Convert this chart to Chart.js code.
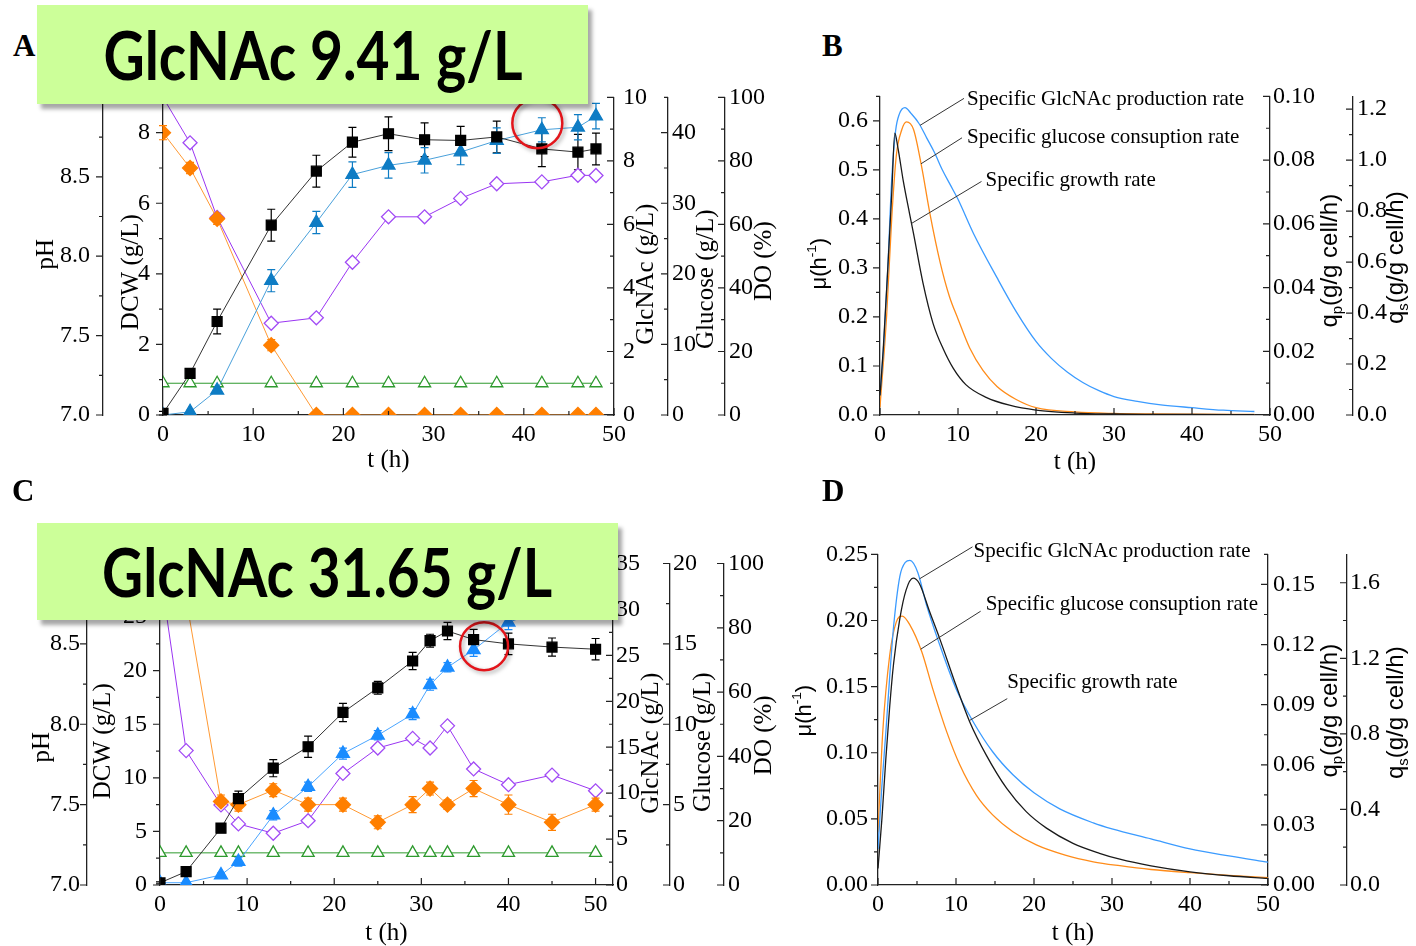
<!DOCTYPE html>
<html>
<head>
<meta charset="utf-8">
<script src="https://cdn.jsdelivr.net/npm/chart.js@4.4.1/dist/chart.umd.min.js"></script>
<style>
html, body { margin: 0; padding: 0; background: #fff; }
#fig { position: relative; width: 1416px; height: 946px; overflow: hidden; }
.panel { position: absolute; }
.letter { position: absolute; font: bold 31px "Liberation Serif", serif; line-height: 1; }
.banner { position: absolute; background: #CCFF99; box-shadow: 4px 5px 4px rgba(0,0,0,0.35);
  display: flex; align-items: center; justify-content: center; z-index: 5; }
.banner span { display: inline-block; font: bold 66px Lato, "Open Sans", sans-serif; line-height: 1; white-space: nowrap; }
</style>
</head>
<body>
<div id="fig">
  <div class="panel" style="left:0;top:70px"><canvas id="chartA" width="800" height="410"></canvas></div>
  <div class="panel" style="left:780px;top:70px"><canvas id="chartB" width="636" height="410"></canvas></div>
  <div class="panel" style="left:0;top:530px"><canvas id="chartC" width="780" height="416"></canvas></div>
  <div class="panel" style="left:780px;top:530px"><canvas id="chartD" width="636" height="416"></canvas></div>

  <div class="letter" style="left:13px;top:30px">A</div>
  <div class="letter" style="left:822px;top:30px">B</div>
  <div class="letter" style="left:12px;top:475px">C</div>
  <div class="letter" style="left:822px;top:475px">D</div>

  <div class="banner" data-w="419" style="left:37px;top:5px;width:551px;height:99px"><span>GlcNAc 9.41 g/L</span></div>
  <div class="banner" data-w="450" style="left:37px;top:523px;width:581px;height:97px"><span>GlcNAc 31.65 g/L</span></div>
</div>

<script>
// ---- batch culture, panel A ----
const tA        = [0, 3, 6, 12, 17, 21, 25, 29, 33, 37, 42, 46, 48];
const dcwA      = [0.05, 1.18, 2.65, 5.38, 6.91, 7.73, 7.97, 7.8, 7.78, 7.88, 7.54, 7.45, 7.54];
const dcwErrA   = [0.05, 0.1, 0.35, 0.45, 0.45, 0.42, 0.48, 0.48, 0.4, 0.45, 0.5, 0.5, 0.45];
const glcnacA   = [0, 0.1, 0.78, 4.23, 6.06, 7.57, 7.86, 8.02, 8.28, 8.64, 8.98, 9.06, 9.41];
const glcnacErrA= [0, 0.05, 0.1, 0.35, 0.35, 0.4, 0.4, 0.4, 0.4, 0.4, 0.38, 0.4, 0.4];
const glucoseA  = [40, 35, 27.8, 9.9, 0, 0, 0, 0, 0, 0, 0, 0, 0];
const glucoseErrA = [1, 0.8, 0.8, 0.8, 0, 0, 0, 0, 0, 0, 0, 0, 0];
const doA       = [100, 85.7, 62.2, 28.9, 30.6, 48.1, 62.4, 62.4, 68.2, 72.8, 73.4, 75.5, 75.4];
const phA       = [7.2, 7.2, 7.2, 7.2, 7.2, 7.2, 7.2, 7.2, 7.2, 7.2, 7.2, 7.2, 7.2];

// ---- fed-batch culture, panel C ----
const tC        = [0, 3, 7, 9, 13, 17, 21, 25, 29, 31, 33, 36, 40, 45, 50];
const dcwC      = [0.2, 1.25, 5.3, 8.06, 10.9, 12.9, 16.1, 18.4, 20.9, 22.8, 23.7, 22.9, 22.5, 22.2, 22.0];
const dcwErrC   = [0.1, 0.2, 0.3, 0.7, 0.8, 1.0, 0.85, 0.6, 0.8, 0.6, 0.8, 0.95, 1.0, 0.85, 1.0];
const glcnacC   = [0.25, 0.25, 1.09, 2.54, 7.6, 10.7, 14.3, 16.3, 18.6, 21.8, 23.7, 25.6, 28.6, 30.3, 31.65];
const glcnacErrC= [0, 0, 0.2, 0.5, 0.5, 0.5, 0.6, 0.5, 0.6, 0.6, 0.5, 0.7, 0.8, 0.8, 0.8];
const glucoseC  = [20, 17.8, 5.2, 5.0, 5.9, 5.0, 5.0, 3.9, 5.0, 6.0, 5.0, 6.0, 5.0, 3.9, 5.0];
const glucoseErrC = [0.3, 0.3, 0.4, 0.4, 0.4, 0.4, 0.4, 0.4, 0.5, 0.4, 0.3, 0.5, 0.6, 0.5, 0.4];
const doC       = [98, 41.8, 24.9, 19.0, 16.1, 20.0, 34.7, 42.6, 45.6, 42.6, 49.5, 36.1, 31.2, 34.2, 29.3];
const phC       = [7.2, 7.2, 7.2, 7.2, 7.2, 7.2, 7.2, 7.2, 7.2, 7.2, 7.2, 7.2, 7.2, 7.2, 7.2];

// ---- specific rates, panel B ----
const tMuB = [0, 0.4, 1, 1.5, 1.9, 2.3, 3, 3.8, 4.3, 5.5, 6.8, 8.1, 9.4, 11, 13.6, 16.6, 20, 25, 30, 35, 40, 48];
const muB  = [0.04, 0.13, 0.3, 0.45, 0.575, 0.545, 0.476, 0.41, 0.37, 0.27, 0.187, 0.135, 0.095, 0.062, 0.036, 0.02, 0.01, 0.004, 0.002, 0.001, 0.001, 0.0005];
const tQpB = [0, 0.5, 1, 1.5, 2, 2.5, 3.2, 4, 5, 6, 7, 8, 9, 10, 12, 15, 17.5, 20, 22, 24, 26, 28, 30, 33, 36, 40, 44, 48];
const qpB  = [0.0062, 0.0231, 0.0462, 0.0738, 0.0892, 0.0946, 0.0965, 0.0946, 0.0915, 0.0869, 0.0823, 0.0769, 0.0723, 0.0677, 0.0569, 0.0431, 0.0323, 0.0231, 0.0177, 0.0135, 0.0102, 0.0077, 0.0058, 0.0043, 0.0032, 0.0023, 0.0015, 0.0011];
const tQsB = [0, 0.85, 1.5, 2.1, 2.8, 3.4, 4.3, 5.3, 6.4, 7.7, 8.9, 10, 11.5, 13.2, 15, 17.4, 20, 25, 30, 35, 40, 48];
const qsB  = [0.03, 0.39, 0.77, 1.02, 1.12, 1.15, 1.12, 0.98, 0.79, 0.6, 0.465, 0.377, 0.263, 0.175, 0.112, 0.062, 0.029, 0.012, 0.006, 0.004, 0.003, 0.002];

// ---- specific rates, panel D ----
const tMuD = [0, 0.5, 1, 1.5, 2, 2.8, 3.6, 4.5, 5.3, 6.6, 7.9, 10, 11.75, 13.9, 16.5, 19, 21.6, 25, 28.4, 31, 35, 40, 45, 50];
const muD  = [0.0125, 0.05, 0.095, 0.135, 0.1675, 0.2015, 0.223, 0.232, 0.228, 0.207, 0.1865, 0.151, 0.1235, 0.098, 0.073, 0.0555, 0.043, 0.0315, 0.024, 0.0195, 0.0145, 0.01, 0.007, 0.005];
const tQpD = [0, 0.5, 1, 1.5, 2, 2.8, 3.5, 4.1, 5.1, 6.2, 7.9, 10, 12.2, 14.7, 17.3, 20, 23.3, 27.6, 30, 35, 40, 45, 50];
const qpD  = [0.018, 0.0495, 0.076, 0.104, 0.129, 0.154, 0.161, 0.162, 0.156, 0.14, 0.12, 0.098, 0.0815, 0.0665, 0.055, 0.046, 0.038, 0.031, 0.028, 0.023, 0.018, 0.0145, 0.0114];
const tQsD = [0, 0.6, 1.5, 2.35, 3.1, 4.1, 5.6, 7, 8.8, 10.5, 12.6, 14.7, 17.3, 20.3, 24, 27.6, 31, 35, 40, 45, 50];
const qsD  = [0.28, 0.805, 1.216, 1.393, 1.423, 1.376, 1.236, 1.041, 0.812, 0.635, 0.476, 0.371, 0.282, 0.212, 0.158, 0.123, 0.102, 0.082, 0.065, 0.051, 0.039];

const SERIF = '"Liberation Serif", "Times New Roman", serif';
const SANS = '"Liberation Sans", Arial, sans-serif';
const AXIS = '#222';
const tickFont = { family: SERIF, size: 24 };

const pts = (xs, ys) => xs.map((x, i) => ({ x, y: ys[i] }));

function yAxis(o) {
  return {
    type: 'linear', axis: 'y', position: o.pos, min: o.min, max: o.max, weight: o.weight || 0,
    grid: { drawOnChartArea: false, drawTicks: false },
    border: { display: true, color: AXIS, width: 1.3 },
    ticks: { stepSize: o.step, includeBounds: false, autoSkip: false, padding: o.pad,
      color: '#000', font: tickFont, callback: v => v.toFixed(o.dec || 0) },
    afterFit: s => { s.width = o.width; }
  };
}

function xAxis(max) {
  return {
    type: 'linear', position: 'bottom', min: 0, max,
    grid: { drawOnChartArea: false, drawTicks: false },
    border: { display: true, color: AXIS, width: 1.3 },
    ticks: { stepSize: 10, includeBounds: false, autoSkip: false, maxRotation: 0, padding: 5,
      color: '#000', font: tickFont },
    afterFit: s => { s.height = 60; }
  };
}

function markerSet(label, xs, ys, axis, o) {
  return {
    label, data: pts(xs, ys), yAxisID: axis, err: o.err,
    borderColor: o.line, borderWidth: 1, pointStyle: o.style, pointRadius: o.r,
    pointBackgroundColor: o.fill, pointBorderColor: o.edge, pointBorderWidth: 1.3
  };
}

function curveSet(label, xs, ys, axis, color) {
  return { label, data: pts(xs, ys), yAxisID: axis, borderColor: color, borderWidth: 1.3,
    pointRadius: 0, cubicInterpolationMode: 'monotone' };
}

// value of a dataset at x, linear between stored points
function valueAt(ds, x) {
  const d = ds.data;
  for (let i = 1; i < d.length; i++) {
    if (x <= d[i].x) {
      const f = (x - d[i - 1].x) / (d[i].x - d[i - 1].x);
      return d[i - 1].y + f * (d[i].y - d[i - 1].y);
    }
  }
  return d[d.length - 1].y;
}

function drawRich(ctx, parts, x, y, rot, family, size) {
  ctx.save();
  ctx.translate(x, y);
  ctx.rotate(rot);
  ctx.fillStyle = '#000';
  ctx.textBaseline = 'middle';
  ctx.textAlign = 'left';
  const runs = parts.map(p => {
    const sz = (p.sub || p.sup) ? size * 0.62 : size;
    ctx.font = sz + 'px ' + family;
    return Object.assign({ sz, w: ctx.measureText(p.t).width }, p);
  });
  let cx = -runs.reduce((s, r) => s + r.w, 0) / 2;
  runs.forEach(r => {
    ctx.font = r.sz + 'px ' + family;
    const oy = r.sub ? size * 0.32 : r.sup ? -size * 0.36 : 0;
    ctx.fillText(r.t, cx, oy);
    cx += r.w;
  });
  ctx.restore();
}

// ticks, error bars, axis titles, labels and highlight rings
function decor(cfg) {
  return {
    id: 'decor',
    beforeDatasetsDraw(chart) {
      const ctx = chart.ctx;
      chart.data.datasets.forEach((ds, i) => {
        if (!ds.err) return;
        const meta = chart.getDatasetMeta(i);
        const ys = chart.scales[ds.yAxisID];
        ctx.save();
        ctx.strokeStyle = ds.pointBorderColor;
        ctx.lineWidth = 1.2;
        ctx.beginPath();
        ds.data.forEach((p, j) => {
          const e = ds.err[j];
          if (!e) return;
          const x = meta.data[j].x;
          const y1 = ys.getPixelForValue(p.y - e), y2 = ys.getPixelForValue(p.y + e);
          ctx.moveTo(x, y1); ctx.lineTo(x, y2);
          ctx.moveTo(x - 4, y1); ctx.lineTo(x + 4, y1);
          ctx.moveTo(x - 4, y2); ctx.lineTo(x + 4, y2);
        });
        ctx.stroke();
        ctx.restore();
      });
    },
    afterDatasetsDraw(chart) {
      const ctx = chart.ctx;
      (cfg.rings || []).forEach(c => {
        const x = chart.scales.x.getPixelForValue(c.x);
        const y = chart.scales[c.axis].getPixelForValue(c.y);
        ctx.save();
        ctx.shadowColor = 'rgba(0,0,0,0.35)';
        ctx.shadowBlur = 4;
        ctx.shadowOffsetX = 2;
        ctx.shadowOffsetY = 2;
        ctx.strokeStyle = '#E3151B';
        ctx.lineWidth = 2.5;
        ctx.beginPath();
        ctx.arc(x, y, c.r, 0, Math.PI * 2);
        ctx.stroke();
        ctx.restore();
      });
    },
    afterDraw(chart) {
      const ctx = chart.ctx, area = chart.chartArea;
      // major and minor tick marks
      ctx.save();
      ctx.strokeStyle = AXIS;
      ctx.lineWidth = 1.2;
      ctx.beginPath();
      for (const id in cfg.minor) {
        const s = chart.scales[id], step = cfg.minor[id];
        const n = Math.floor((s.max - s.min) / step + 1e-6);
        for (let i = 0; i <= n; i++) {
          const v = s.min + i * step;
          const major = s.ticks.some(t => Math.abs(t.value - v) < step * 1e-3);
          const len = major ? 7 : 4;
          const p = s.getPixelForValue(v);
          if (s.isHorizontal()) {
            ctx.moveTo(p, s.top); ctx.lineTo(p, s.top - len);
          } else {
            const x = s.position === 'left' ? s.right : s.left;
            ctx.moveTo(x, p); ctx.lineTo(x - len, p);
          }
        }
      }
      ctx.stroke();
      ctx.restore();

      // axis titles
      (cfg.titles || []).forEach(t => {
        const s = chart.scales[t.axis];
        if (s.isHorizontal()) {
          drawRich(ctx, t.parts, (area.left + area.right) / 2, s.top + t.off, 0, t.family || SERIF, t.size || 25);
        } else {
          const x = (s.position === 'left' ? s.right : s.left) + t.off;
          drawRich(ctx, t.parts, x, (area.top + area.bottom) / 2 + (t.dy || 0), -Math.PI / 2, t.family || SERIF, t.size || 25);
        }
      });

      // curve labels with leader lines
      ctx.save();
      ctx.strokeStyle = '#333';
      ctx.lineWidth = 1;
      ctx.fillStyle = '#000';
      ctx.font = '21px ' + SERIF;
      ctx.textBaseline = 'middle';
      ctx.textAlign = 'left';
      (cfg.callouts || []).forEach(c => {
        const ds = chart.data.datasets[c.ds];
        const px = chart.scales.x.getPixelForValue(c.x);
        const py = chart.scales[ds.yAxisID].getPixelForValue(valueAt(ds, c.x));
        const ex = px + c.dx, ey = py + c.dy;
        ctx.beginPath();
        ctx.moveTo(px, py);
        ctx.lineTo(ex, ey);
        ctx.stroke();
        ctx.fillText(c.text, ex + c.tx, ey + c.ty);
      });
      ctx.restore();
    }
  };
}

function build(id, datasets, scales, padding, cfg) {
  return new Chart(document.getElementById(id), {
    type: 'line',
    data: { datasets },
    options: {
      responsive: false, animation: false, devicePixelRatio: 1,
      layout: { padding },
      plugins: { legend: { display: false }, tooltip: { enabled: false } },
      scales
    },
    plugins: [decor(cfg)]
  });
}

const plain = s => [{ t: s }];
const qTitle = s => [{ t: 'q' }, { t: s, sub: true }, { t: '(g/g cell/h)' }];
const muTitle = [{ t: 'μ(h' }, { t: '-1', sup: true }, { t: ')' }];

// ---------- A ----------
build('chartA', [
  markerSet('DCW', tA, dcwA, 'dcw', { style: 'rect', r: 7, fill: '#000', edge: '#000', line: '#333', err: dcwErrA }),
  markerSet('GlcNAc', tA, glcnacA, 'glcnac', { style: 'triangle', r: 7.5, fill: '#0E7CC4', edge: '#0E7CC4', line: '#49A0DA', err: glcnacErrA }),
  markerSet('Glucose', tA, glucoseA, 'glc', { style: 'rectRot', r: 7.5, fill: '#FF7F00', edge: '#FF7F00', line: '#FF9933', err: glucoseErrA }),
  markerSet('DO', tA, doA, 'dox', { style: 'rectRot', r: 7, fill: '#fff', edge: '#A24CF5', line: '#9A35F2' }),
  markerSet('pH', tA, phA, 'ph', { style: 'triangle', r: 7, fill: '#fff', edge: '#2E9A2E', line: '#2E9A2E' })
], {
  x: xAxis(50),
  dcw: yAxis({ pos: 'left', min: 0, max: 9, step: 2, width: 60, pad: 13, weight: 0 }),
  ph: yAxis({ pos: 'left', min: 7, max: 9, step: 0.5, dec: 1, width: 103, pad: 13, weight: 1 }),
  glcnac: yAxis({ pos: 'right', min: 0, max: 10, step: 2, width: 54, pad: 9, weight: 0 }),
  glc: yAxis({ pos: 'right', min: 0, max: 45, step: 10, width: 57, pad: 4, weight: 1 }),
  dox: yAxis({ pos: 'right', min: 0, max: 100, step: 20, width: 75, pad: 4, weight: 2 })
}, { top: 26, bottom: 5, left: 0, right: 0 }, {
  minor: { x: 5, dcw: 1, ph: 0.25, glcnac: 1, glc: 5, dox: 10 },
  titles: [
    { axis: 'ph', off: -57, dy: -2, parts: plain('pH') },
    { axis: 'dcw', off: -32, dy: 16, parts: plain('DCW (g/L)') },
    { axis: 'glcnac', off: 32, dy: 18, parts: plain('GlcNAc (g/L)') },
    { axis: 'glc', off: 38, dy: 23, parts: plain('Glucose (g/L)') },
    { axis: 'dox', off: 39, dy: 5, parts: plain('DO (%)') },
    { axis: 'x', off: 45, parts: plain('t (h)') }
  ],
  rings: [{ axis: 'glcnac', x: 41.5, y: 9.19, r: 25 }]
});

// ---------- B ----------
build('chartB', [
  curveSet('Specific growth rate', tMuB, muB, 'mu', '#1A1A1A'),
  curveSet('Specific GlcNAc production rate', tQpB, qpB, 'qp', '#3B9BFF'),
  curveSet('Specific glucose consuption rate', tQsB, qsB, 'qs', '#FF8C1A')
], {
  x: xAxis(50),
  mu: yAxis({ pos: 'left', min: 0, max: 0.65, step: 0.1, dec: 1, width: 80, pad: 12 }),
  qp: yAxis({ pos: 'right', min: 0, max: 0.1, step: 0.02, dec: 2, width: 83, pad: 3, weight: 0 }),
  qs: yAxis({ pos: 'right', min: 0, max: 1.25, step: 0.2, dec: 1, width: 63, pad: 4, weight: 1 })
}, { top: 15, bottom: 5, left: 20, right: 0 }, {
  minor: { x: 5, mu: 0.05, qp: 0.01, qs: 0.1 },
  titles: [
    { axis: 'mu', off: -60, dy: 8, parts: muTitle, family: SANS, size: 22 },
    { axis: 'qp', off: 60, dy: 5, parts: qTitle('p'), family: SANS, size: 24 },
    { axis: 'qs', off: 43, dy: 2, parts: qTitle('s'), family: SANS, size: 24 },
    { axis: 'x', off: 47, parts: plain('t (h)') }
  ],
  callouts: [
    { ds: 1, x: 5.13, dx: 44, dy: -27, tx: 3, ty: 1, text: 'Specific GlcNAc production rate' },
    { ds: 2, x: 5.26, dx: 41, dy: -26, tx: 5, ty: 0, text: 'Specific glucose consuption rate' },
    { ds: 0, x: 4.04, dx: 70, dy: -42, tx: 4, ty: -1, text: 'Specific growth rate' }
  ]
});

// ---------- C ----------
build('chartC', [
  markerSet('DCW', tC, dcwC, 'dcw', { style: 'rect', r: 7, fill: '#000', edge: '#000', line: '#333', err: dcwErrC }),
  markerSet('GlcNAc', tC, glcnacC, 'glcnac', { style: 'triangle', r: 7.5, fill: '#1A8CFF', edge: '#1A8CFF', line: '#4AA5FF', err: glcnacErrC }),
  markerSet('Glucose', tC, glucoseC, 'glc', { style: 'rectRot', r: 7.5, fill: '#FF7F00', edge: '#FF7F00', line: '#FF9933', err: glucoseErrC }),
  markerSet('DO', tC, doC, 'dox', { style: 'rectRot', r: 7, fill: '#fff', edge: '#A24CF5', line: '#9A35F2' }),
  markerSet('pH', tC, phC, 'ph', { style: 'triangle', r: 7, fill: '#fff', edge: '#2E9A2E', line: '#2E9A2E' })
], {
  x: xAxis(52),
  dcw: yAxis({ pos: 'left', min: 0, max: 30, step: 5, width: 73, pad: 13, weight: 0 }),
  ph: yAxis({ pos: 'left', min: 7, max: 9, step: 0.5, dec: 1, width: 87, pad: 7, weight: 1 }),
  glcnac: yAxis({ pos: 'right', min: 0, max: 35, step: 5, width: 57, pad: 3, weight: 0 }),
  glc: yAxis({ pos: 'right', min: 0, max: 20, step: 5, width: 54, pad: 3, weight: 1 }),
  dox: yAxis({ pos: 'right', min: 0, max: 100, step: 20, width: 56, pad: 4, weight: 2 })
}, { top: 33.5, bottom: 1, left: 0, right: 0 }, {
  minor: { x: 5, dcw: 2.5, ph: 0.25, glcnac: 2.5, glc: 2.5, dox: 10 },
  titles: [
    { axis: 'ph', off: -45, dy: 23, parts: plain('pH') },
    { axis: 'dcw', off: -57, dy: 17, parts: plain('DCW (g/L)') },
    { axis: 'glcnac', off: 38, dy: 19, parts: plain('GlcNAc (g/L)') },
    { axis: 'glc', off: 33, dy: 18, parts: plain('Glucose (g/L)') },
    { axis: 'dox', off: 40, dy: 11, parts: plain('DO (%)') },
    { axis: 'x', off: 48, parts: plain('t (h)') }
  ],
  rings: [{ axis: 'glcnac', x: 37.2, y: 26.0, r: 24 }]
});

// ---------- D ----------
build('chartD', [
  curveSet('Specific growth rate', tMuD, muD, 'mu', '#1A1A1A'),
  curveSet('Specific GlcNAc production rate', tQpD, qpD, 'qp', '#3B9BFF'),
  curveSet('Specific glucose consuption rate', tQsD, qsD, 'qs', '#FF8C1A')
], {
  x: xAxis(50),
  mu: yAxis({ pos: 'left', min: 0, max: 0.25, step: 0.05, dec: 2, width: 78, pad: 10 }),
  qp: yAxis({ pos: 'right', min: 0, max: 0.165, step: 0.03, dec: 2, width: 79, pad: 5, weight: 0 }),
  qs: yAxis({ pos: 'right', min: 0, max: 1.75, step: 0.4, dec: 1, width: 69, pad: 3, weight: 1 })
}, { top: 24, bottom: 1, left: 20, right: 0 }, {
  minor: { x: 5, mu: 0.025, qp: 0.015, qs: 0.2 },
  titles: [
    { axis: 'mu', off: -73, dy: -9, parts: muTitle, family: SANS, size: 22 },
    { axis: 'qp', off: 62, dy: -9, parts: qTitle('p'), family: SANS, size: 24 },
    { axis: 'qs', off: 49, dy: -7, parts: qTitle('s'), family: SANS, size: 24 },
    { axis: 'x', off: 48, parts: plain('t (h)') }
  ],
  callouts: [
    { ds: 1, x: 5.32, dx: 53, dy: -32, tx: 1, ty: 5, text: 'Specific GlcNAc production rate' },
    { ds: 2, x: 5.47, dx: 60, dy: -38, tx: 5, ty: -7, text: 'Specific glucose consuption rate' },
    { ds: 0, x: 11.7, dx: 38, dy: -22, tx: 0, ty: -16, text: 'Specific growth rate' }
  ]
});

// squeeze the banner titles to their box width
function fitBanners() {
  document.querySelectorAll('.banner').forEach(b => {
    const span = b.querySelector('span');
    span.style.transform = 'none';
    const w = span.getBoundingClientRect().width;
    span.style.transform = 'scaleX(' + (Number(b.dataset.w) / w) + ')';
  });
}
fitBanners();
if (document.fonts) document.fonts.ready.then(fitBanners);
</script>
</body>
</html>
